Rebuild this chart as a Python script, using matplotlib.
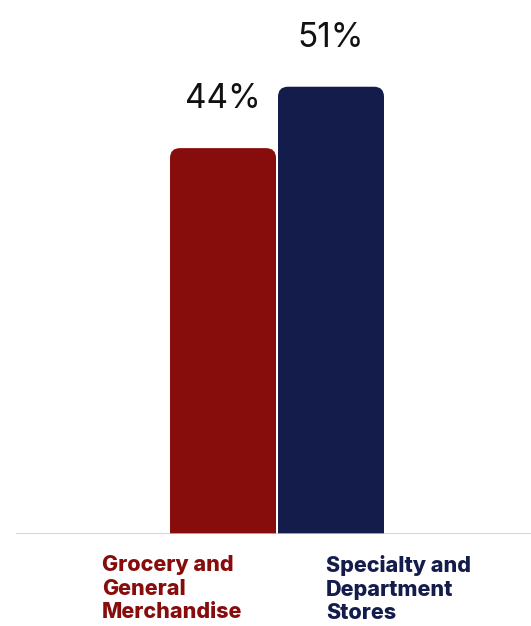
import matplotlib.pyplot as plt
from matplotlib.patches import FancyBboxPatch

categories = ["Grocery and\nGeneral\nMerchandise", "Specialty and\nDepartment\nStores"]
values = [44, 51]
colors = ["#870C0C", "#141C4C"]

fig = plt.figure(figsize=(5.31, 6.26), dpi=100)
# axes placed so that the baseline sits at y=534px and 1% = ~8.77px
ax = fig.add_axes([16 / 531, 92 / 626, 515 / 531, 60 * 8.77 / 626])
ax.set_xlim(-1.917, 2.852)
ax.set_ylim(0, 60)
ax.axis("off")

# px -> data scale for rounded corners
x_per_px = 1 / 108
y_per_px = 1 / 8.77
r = 10 * x_per_px
aspect = y_per_px / x_per_px

width = 106 / 108
for i, (v, c) in enumerate(zip(values, colors)):
    box = FancyBboxPatch((i - width / 2, -5), width, v + 5,
                         boxstyle=f"round,pad=0,rounding_size={r}",
                         mutation_aspect=aspect, facecolor=c, edgecolor="none")
    ax.add_patch(box)
    ax.text(i, v + 40 * y_per_px, f"{v}%", ha="center", va="baseline",
            fontsize=24, family="Inter", color="#111111")

ax.axhline(0, color="#C8C8C8", linewidth=1.8, xmin=0, xmax=1)

label_x = [102, 326]
for cat, c, lx in zip(categories, colors, label_x):
    fig.text(lx / 531, 1 - 555 / 626, cat, ha="left", va="top", fontsize=15.5,
             fontweight="heavy", family="Inter", color=c, linespacing=1.22)

fig.savefig("out.png", dpi=100)
